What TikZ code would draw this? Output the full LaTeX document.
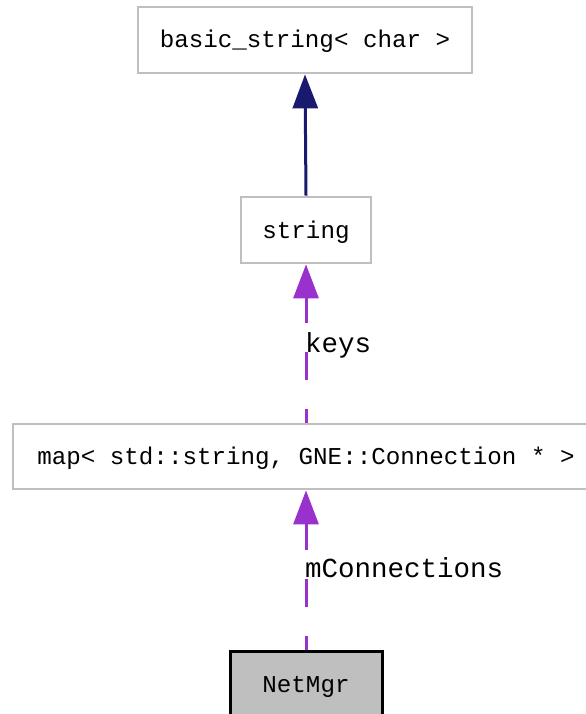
\documentclass[tikz,border=0pt]{standalone}
\usepackage{fontspec}
\setmonofont{Liberation Mono}
\usetikzlibrary{arrows.meta}
\definecolor{boxgray}{HTML}{BFBFBF}
\definecolor{navyedge}{HTML}{191970}
\definecolor{orchidedge}{HTML}{9932CC}
\tikzset{
  classbox/.style={draw=boxgray, line width=2.8bp, fill=white, inner sep=0pt,
    font=\ttfamily\fontsize{24.2bp}{28bp}\selectfont, text height=20bp, text depth=4bp, minimum height=66bp},
  mainbox/.style={classbox, draw=black, line width=3bp, fill=boxgray},
  inherit/.style={draw=navyedge, line width=3bp, -{Triangle[length=34bp,width=25bp]}},
  usage/.style={draw=orchidedge, line width=3bp, -{Triangle[length=34bp,width=25bp]},
    dash pattern=on 28bp off 29bp, dash phase=14bp},
  edgelabel/.style={inner sep=0pt, anchor=base west, font=\ttfamily\fontsize{27.5bp}{32bp}\selectfont}
}
\begin{document}
\begin{tikzpicture}[x=1bp,y=-1bp]
\clip (0,0) rectangle (586,714);
\fill[white] (0,0) rectangle (586,714);
\node[classbox, minimum width=334bp] (bs) at (305,40) {basic\_string< char >};
\node[classbox, minimum width=130bp] (str) at (306,230) {string};
\node[classbox, minimum width=586bp, minimum height=65bp] (map) at (306,456.5) {map< std::string, GNE::Connection * >};
\node[mainbox, minimum width=152bp] (nm) at (306,684) {NetMgr};
\draw[inherit] (str.north) -- (bs.south);
\draw[usage] (map.north -| str.south) -- (str.south);
\draw[usage] (nm.north) -- (map.south -| nm.north);
\node[edgelabel] (lkeys) at (305,352) {keys};
\node[edgelabel] (lconn) at (305,577) {mConnections};
\end{tikzpicture}
\end{document}
